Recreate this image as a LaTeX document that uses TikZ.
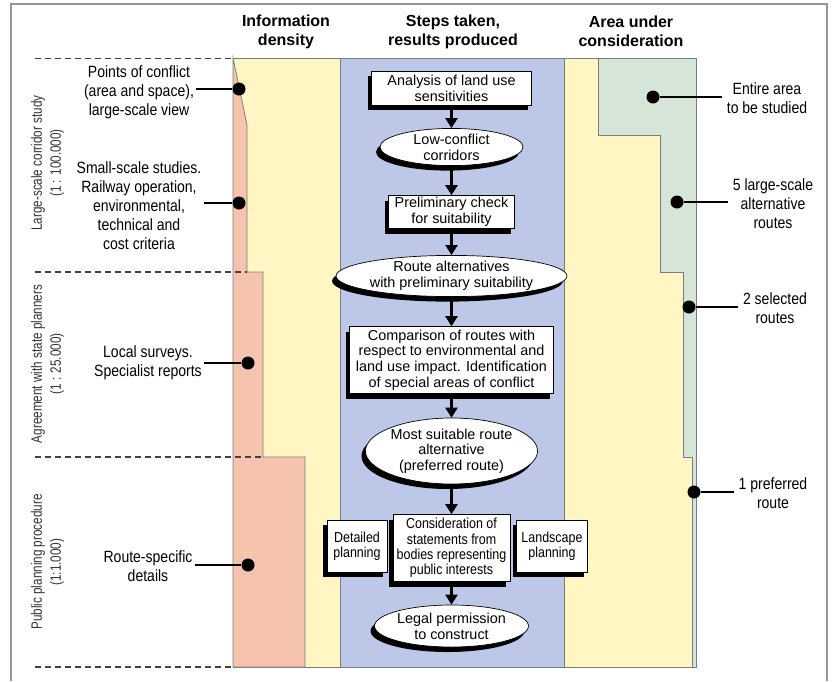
\documentclass[tikz,border=0pt]{standalone}
\usepackage{fontspec}
\setmainfont{Liberation Sans}
\newfontfamily\narrowfont[FakeStretch=0.86]{Liberation Sans}
\newfontfamily\slimfont[FakeStretch=0.78]{Liberation Sans}
\usetikzlibrary{shapes.geometric,shadows,arrows.meta}

\definecolor{densityred}{RGB}{246,196,174}
\definecolor{paleyellow}{RGB}{255,246,196}
\definecolor{stepblue}{RGB}{189,200,232}
\definecolor{areagreen}{RGB}{213,230,217}
\definecolor{edgegray}{RGB}{125,125,125}

\tikzstyle{heading} = [align=center,font=\fontsize{16}{19}\selectfont\bfseries]
\tikzstyle{phase} = [align=center,rotate=90,text=black!80,font=\slimfont\fontsize{15}{19}\selectfont]
\tikzstyle{remark} = [align=center,inner sep=2pt,font=\narrowfont\fontsize{16.3}{19}\selectfont]
\tikzstyle{dot} = [circle,fill=black,inner sep=0pt,minimum size=13pt]
\tikzstyle{task} = [rectangle,draw,fill=white,line width=0.7pt,align=center,inner sep=1pt,
  drop shadow={shadow xshift=-4pt,shadow yshift=-5pt,fill=black,opacity=1},
  font=\fontsize{14.4}{15.7}\selectfont]
\tikzstyle{result} = [ellipse,draw,fill=white,line width=0.7pt,align=center,inner sep=0pt,
  drop shadow={shadow xshift=-4pt,shadow yshift=-5pt,fill=black,opacity=1},
  font=\fontsize{14.4}{15.7}\selectfont]
\tikzstyle{side} = [task,font=\narrowfont\fontsize{14.5}{15.4}\selectfont]
\tikzstyle{flow} = [-{Triangle[length=10pt,width=12pt]},line width=2.6pt]
\tikzstyle{pointer} = [line width=1.2pt]
\tikzstyle{phaseline} = [dash pattern=on 6pt off 4pt,line width=1.2pt,black!75]
\tikzstyle{column} = [draw=edgegray,line width=0.8pt]

\begin{document}
\begin{tikzpicture}[x=1pt,y=-1pt]
		\useasboundingbox (0,0) rectangle (833,681);
		% columns
		\fill[paleyellow,column] (233,58) rectangle (340,667);
		\fill[densityred,column] (233,58) -- (247,125) -- (247,272) -- (263,272) -- (263,457)
			-- (305,457) -- (305,667) -- (233,667) -- cycle;
		\fill[stepblue,column] (340,58) rectangle (564,667);
		\fill[paleyellow,column] (564,58) rectangle (696,667);
		\fill[areagreen,column] (598,58) -- (696,58) -- (696,667) -- (692,667) -- (692,457)
			-- (683,457) -- (683,272) -- (660,272) -- (660,135) -- (598,135) -- cycle;
		% frame and phases
		\draw[edgegray!80,line width=1.5pt] (11,681) -- (11,4) -- (827,4) -- (827,681);
		\draw[phaseline] (35,58.5) -- (233,58.5);
		\draw[phaseline] (35,272) -- (247,272);
		\draw[phaseline] (35,457) -- (263,457);
		\draw[phaseline] (35,667) -- (233,667);
		\node[heading] (h1) at (286,31.5) {Information\\density};
		\node[heading] (h2) at (453,31.5) {Steps taken,\\results produced};
		\node[heading] (h3) at (631,31.5) {Area under\\consideration};
		\node[phase] (p1) at (47.5,163) {Large-scale corridor study\\(1 : 100.000)};
		\node[phase] (p2) at (47.5,364) {Agreement with state planners\\(1 : 25.000)};
		\node[phase] (p3) at (47.5,562) {Public planning procedure\\(1:1.000)};
		% information density
		\node[remark] (l1) at (139,92) {Points of conflict\\(area and space),\\large-scale view};
		\node[remark] (l2) at (139,206) {Small-scale studies.\\Railway operation,\\environmental,\\technical and\\cost criteria};
		\node[remark] (l3) at (148,363) {Local surveys.\\Specialist reports};
		\node[remark] (l4) at (148,566) {Route-specific\\details};
		\node[dot] (d1) at (239,89) {};
		\node[dot] (d2) at (239,203) {};
		\node[dot] (d3) at (248,363) {};
		\node[dot] (d4) at (248,565) {};
		\draw[pointer] (l1.east |- d1) -- (d1);
		\draw[pointer] (l2.east |- d2) -- (d2);
		\draw[pointer] (l3.east |- d3) -- (d3);
		\draw[pointer] (l4.east |- d4) -- (d4);
		% area under consideration
		\node[remark,inner sep=5pt] (r1) at (767,98) {Entire area\\to be studied};
		\node[remark,inner sep=5pt] (r2) at (773,204) {5 large-scale\\alternative\\routes};
		\node[remark,inner sep=5pt] (r3) at (775,308) {2 selected\\routes};
		\node[remark,inner sep=5pt] (r4) at (773,493) {1 preferred\\route};
		\node[dot] (e1) at (653,97) {};
		\node[dot] (e2) at (677,202) {};
		\node[dot] (e3) at (689,307) {};
		\node[dot] (e4) at (694,492) {};
		\draw[pointer] (e1) -- (r1.west |- e1);
		\draw[pointer] (e2) -- (r2.west |- e2);
		\draw[pointer] (e3) -- (r3.west |- e3);
		\draw[pointer] (e4) -- (r4.west |- e4);
		% steps
		\node[task,minimum width=160pt,minimum height=34pt] (s1) at (451.5,88) {Analysis of land use\\sensitivities};
		\node[result,minimum width=143pt,minimum height=37pt] (s2) at (451.5,147) {Low-conflict\\corridors};
		\node[task,minimum width=126pt,minimum height=33pt] (s3) at (451.5,212) {Preliminary check\\for suitability};
		\node[result,minimum width=190pt,minimum height=41pt] (s4) at (451.5,276) {Route alternatives\\with preliminary suitability};
		\node[task,minimum width=204pt,minimum height=67pt] (s5) at (451.5,360) {Comparison of routes with\\respect to environmental and\\land use impact. Identification\\of special areas of conflict};
		\node[result,minimum width=154pt,minimum height=66pt] (s6) at (451.5,451) {Most suitable route\\alternative\\(preferred route)};
		\node[side,minimum width=117pt,minimum height=67pt] (s7) at (451.5,548) {Consideration of\\statements from\\bodies representing\\public interests};
		\node[side,minimum width=60pt,minimum height=52pt] (s8) at (357,546) {Detailed\\planning};
		\node[side,minimum width=71pt,minimum height=52pt] (s9) at (552,546) {Landscape\\planning};
		\node[result,minimum width=127pt,minimum height=42pt] (s10) at (451.5,626) {Legal permission\\to construct};
		\draw[flow] (s1) -- (s2);
		\draw[flow] (s2) -- (s3);
		\draw[flow] (s3) -- (s4);
		\draw[flow] (s4) -- (s5);
		\draw[flow] (s5) -- (s6);
		\draw[flow] (s6) -- (s7);
		\draw[flow] (s7) -- (s10);
		\end{tikzpicture}
\end{document}
